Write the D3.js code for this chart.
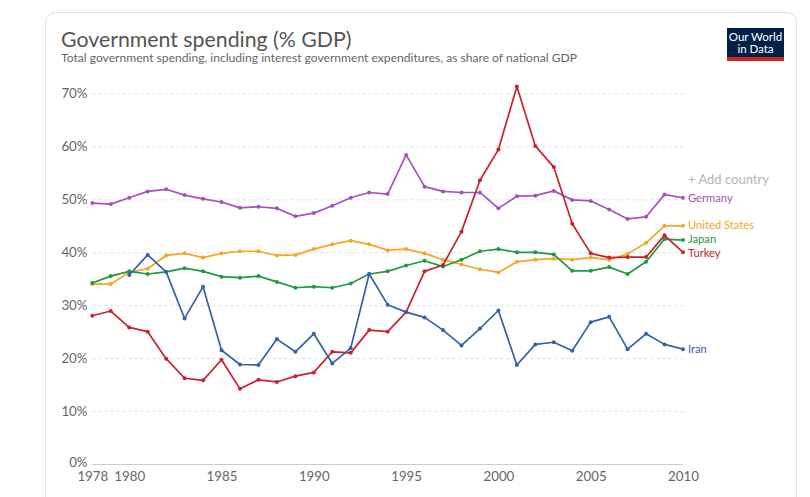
<!DOCTYPE html>
<html>
<head>
<meta charset="utf-8">
<script src="https://cdn.jsdelivr.net/npm/d3@7"></script>
<style>
  html, body { margin: 0; padding: 0; background: #fff; }
  svg { display: block; font-family: Lato, "Open Sans", sans-serif; }
</style>
</head>
<body>
<svg id="chart" width="810" height="497"></svg>
<script>
const years = d3.range(1978, 2011);
const germany = [49.3,49.1,50.3,51.5,51.9,50.8,50.1,49.5,48.4,48.6,48.3,46.8,47.4,48.8,50.3,51.3,51.0,58.4,52.4,51.5,51.3,51.3,48.3,50.6,50.7,51.6,49.9,49.7,48.1,46.3,46.7,50.9,50.3];
const unitedStates = [34.0,34.0,36.2,36.9,39.4,39.8,39.0,39.8,40.2,40.2,39.4,39.5,40.6,41.5,42.2,41.5,40.4,40.6,39.8,38.6,37.7,36.8,36.2,38.2,38.6,38.8,38.6,39.0,38.6,39.7,41.8,45.0,45.0];
const japan = [34.2,35.5,36.4,35.9,36.3,37.0,36.4,35.4,35.2,35.5,34.4,33.3,33.5,33.3,34.1,35.9,36.4,37.5,38.4,37.3,38.6,40.2,40.6,40.0,40.0,39.6,36.5,36.5,37.2,35.9,38.2,42.5,42.3];
const turkey = [28.0,28.9,25.8,25.0,19.9,16.2,15.8,19.7,14.2,15.9,15.5,16.6,17.3,21.2,21.0,25.3,25.0,28.7,36.4,37.6,43.9,53.6,59.4,71.3,60.1,56.1,45.4,39.8,39.0,39.1,39.1,43.2,40.0];
const iran = [null,null,35.7,39.5,36.3,27.5,33.5,21.5,18.8,18.7,23.6,21.2,24.6,19.0,21.9,35.9,30.1,28.7,27.7,25.3,22.4,25.6,29.0,18.7,22.6,23.0,21.4,26.8,27.8,21.7,24.6,22.6,21.7];

const yTicks = [0,10,20,30,40,50,60,70];
const xTicks = [1978,1980,1985,1990,1995,2000,2005,2010];

const series = [
  {name:"Germany", values:germany, color:"#a652ba", labelDy:0},
  {name:"United States", values:unitedStates, color:"#f5a623", labelDy:-1},
  {name:"Japan", values:japan, color:"#1f9a3c", labelDy:-1.5},
  {name:"Turkey", values:turkey, color:"#c8232c", labelDy:1.2},
  {name:"Iran", values:iran, color:"#3561a8", labelDy:0}
];

const svg = d3.select("#chart");

// frame
svg.append("rect").attr("x",45.5).attr("y",12.5).attr("width",751).attr("height",520)
  .attr("rx",10).attr("fill","#fff").attr("stroke","#e0e0e0");

// title
svg.append("text").attr("x",61).attr("y",47).attr("font-size",21.3).attr("fill","#555")
  .text("Government spending (% GDP)");
svg.append("text").attr("x",61).attr("y",62).attr("font-size",12.1).attr("fill","#666")
  .text("Total government spending, including interest government expenditures, as share of national GDP");

// logo
const logo = svg.append("g");
logo.append("rect").attr("x",727).attr("y",28).attr("width",57).attr("height",33).attr("fill","#002147");
logo.append("rect").attr("x",727).attr("y",57).attr("width",57).attr("height",4).attr("fill","#ce261e");
logo.append("text").attr("x",755.5).attr("y",41).attr("text-anchor","middle").attr("font-size",11.5).attr("fill","#fff").attr("font-family","Lato, sans-serif").text("Our World");
logo.append("text").attr("x",755.5).attr("y",53).attr("text-anchor","middle").attr("font-size",11.5).attr("fill","#fff").attr("font-family","Lato, sans-serif").text("in Data");

const x = d3.scaleLinear().domain([1978, 2010]).range([92.3, 683]);
const y = d3.scaleLinear().domain([0, 70]).range([464, 93.5]);

// y axis + gridlines
const yAxis = d3.axisLeft(y).tickValues(yTicks).tickFormat(d => d + "%").tickSize(0).tickPadding(5);
const gy = svg.append("g").attr("transform","translate(92.5,0)").call(yAxis);
gy.select(".domain").remove();
gy.selectAll("text").attr("font-size",13.3).attr("fill","#666").attr("font-family","Lato, sans-serif").attr("dy", d => d === 0 ? "0.2em" : "0.32em");
gy.selectAll(".tick").append("line").attr("x1",0).attr("x2",683-92.5)
  .attr("stroke", d => d === 0 ? "#ccc" : "#ddd")
  .attr("stroke-dasharray", d => d === 0 ? null : "3,3");

const xAxis = d3.axisBottom(x).tickValues(xTicks).tickFormat(d3.format("d")).tickSize(0).tickPadding(8);
const gx = svg.append("g").attr("transform","translate(0,464)").call(xAxis);
gx.select(".domain").remove();
gx.selectAll("text").attr("font-size",13.3).attr("fill","#666").attr("font-family","Lato, sans-serif");

const line = d3.line().defined(d => d[1] != null).x(d => x(d[0])).y(d => y(d[1]));

series.forEach(s => {
  const pts = years.map((yr, i) => [yr, s.values[i]]);
  svg.append("path").datum(pts).attr("d", line).attr("fill","none")
    .attr("stroke", s.color).attr("stroke-width",1.7).attr("stroke-linejoin","round");
  svg.append("g").selectAll("circle").data(pts.filter(d => d[1] != null)).join("circle")
    .attr("cx", d => x(d[0])).attr("cy", d => y(d[1])).attr("r",2).attr("fill", s.color);
  const last = pts[pts.length-1];
  svg.append("text").attr("x", x(last[0]) + 5).attr("y", y(last[1]) + s.labelDy)
    .attr("dy","0.35em").attr("font-size",11.2).attr("fill", s.color).text(s.name);
});

// add country
svg.append("text").attr("x",688).attr("y",184).attr("font-size",13).attr("fill","#b5b5b5")
  .text("+ Add country");
</script>
</body>
</html>
